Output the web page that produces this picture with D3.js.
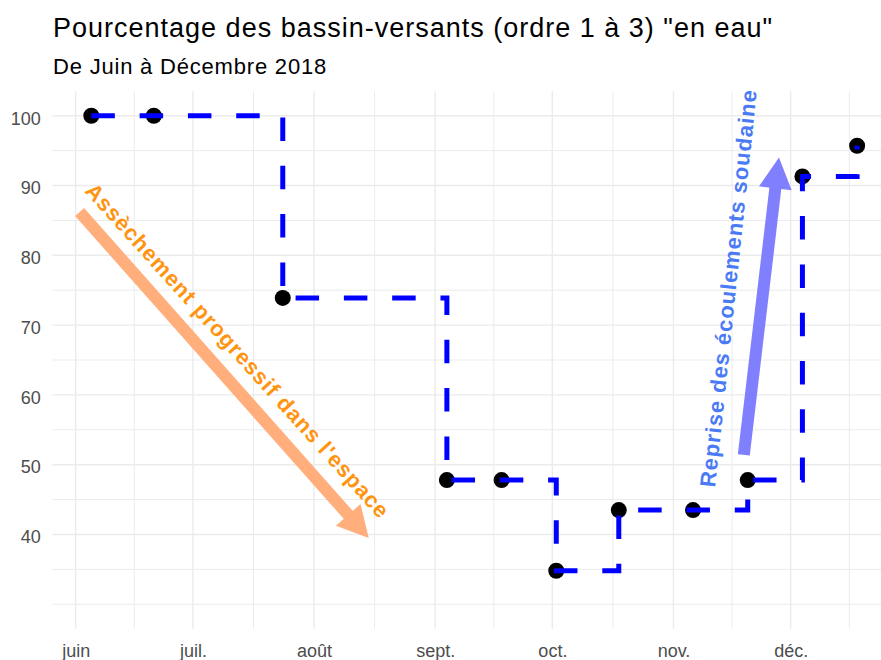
<!DOCTYPE html>
<html>
<head>
<meta charset="utf-8">
<script src="https://cdn.jsdelivr.net/npm/d3@7"></script>
<style>
  body { margin: 0; background: #ffffff; }
  svg { display: block; font-family: "Liberation Sans", Arial, sans-serif; }
</style>
</head>
<body>
<svg id="chart" width="881" height="660"></svg>
<script>
// Survey dates and share of catchments (order 1 to 3) holding water, in %
const surveyDates = ["2018-06-05", "2018-06-21", "2018-07-24", "2018-09-04", "2018-09-18",
                     "2018-10-02", "2018-10-18", "2018-11-06", "2018-11-20", "2018-12-04", "2018-12-18"];
const pctEnEau = [100, 100, 73.9, 47.8, 47.8, 34.8, 43.5, 43.5, 47.8, 91.3, 95.7];

// Axis ticks
const monthTicks = ["2018-06-01", "2018-07-01", "2018-08-01", "2018-09-01", "2018-10-01", "2018-11-01", "2018-12-01"];
const monthLabels = ["juin", "juil.", "août", "sept.", "oct.", "nov.", "déc."];
const yTicks = [40, 50, 60, 70, 80, 90, 100];
const yGrid = [30, 35, 40, 45, 50, 55, 60, 65, 70, 75, 80, 85, 90, 95, 100];

// Annotation arrows (start, end) and their captions
const arrowDryingDates = ["2018-06-02", "2018-08-15"];
const arrowDryingValues = [86.2, 39.5];
const arrowFlowDates = ["2018-11-19", "2018-11-28"];
const arrowFlowValues = [51.4, 94];
const captionDrying = { date: "2018-07-11", value: 65.6, text: "Assèchement progressif dans l'espace" };
const captionFlow = { date: "2018-11-17", value: 75.2, text: "Reprise des écoulements soudaine" };

const parse = d3.utcParse("%Y-%m-%d");
const svg = d3.select("#chart");

const panel = { left: 52.5, right: 881, top: 91.3, bottom: 628.7 };

const x = d3.scaleUtc()
  .domain([parse("2018-06-01"), parse("2018-12-01")])
  .range([75.7, 790.7]);
const y = d3.scaleLinear()
  .domain([26.5, 103.5])
  .range([panel.bottom, panel.top]);

// ---- grid ----
const grid = svg.append("g").attr("class", "grid");
const majors = monthTicks.map(parse);
const step0 = majors[1] - majors[0];
const extended = majors.concat([new Date(+majors[majors.length - 1] + step0)]);
const minors = d3.pairs(extended).map(([a, b]) => new Date((+a + +b) / 2));

grid.selectAll("line.hgrid").data(yGrid).join("line")
  .attr("x1", panel.left).attr("x2", panel.right)
  .attr("y1", d => y(d)).attr("y2", d => y(d))
  .attr("stroke", "#ebebeb")
  .attr("stroke-width", d => yTicks.includes(d) ? 1.4 : 1.0);

grid.selectAll("line.vgrid").data(majors.map(d => [d, true]).concat(minors.map(d => [d, false]))).join("line")
  .attr("x1", d => x(d[0])).attr("x2", d => x(d[0]))
  .attr("y1", panel.top).attr("y2", panel.bottom)
  .attr("stroke", "#ebebeb")
  .attr("stroke-width", d => d[1] ? 1.4 : 1.0);

// ---- axes ----
const yAxis = svg.append("g")
  .attr("transform", `translate(${panel.left},0)`)
  .call(d3.axisLeft(y).tickValues(yTicks).tickSize(0).tickPadding(11.8));
yAxis.select(".domain").remove();
yAxis.selectAll("text")
  .attr("dy", "0.46em")
  .attr("font-size", 18)
  .attr("font-family", "'Liberation Sans', Arial, sans-serif")
  .attr("fill", "#4d4d4d");

const xAxis = svg.append("g")
  .attr("transform", `translate(0,${panel.bottom})`)
  .call(d3.axisBottom(x).tickValues(majors).tickFormat((d, i) => monthLabels[i]).tickSize(0).tickPadding(16));
xAxis.select(".domain").remove();
xAxis.selectAll("text")
  .attr("font-size", 18)
  .attr("font-family", "'Liberation Sans', Arial, sans-serif")
  .attr("fill", "#4d4d4d");

// ---- annotation arrows ----
function drawArrow(dates, values, color) {
  const p0 = [x(parse(dates[0])), y(values[0])];
  const p1 = [x(parse(dates[1])), y(values[1])];
  const len = Math.hypot(p1[0] - p0[0], p1[1] - p0[1]);
  const ux = (p1[0] - p0[0]) / len, uy = (p1[1] - p0[1]) / len;
  const headLen = 35, half = 28 * Math.PI / 180;
  const rot = a => [ux * Math.cos(a) - uy * Math.sin(a), ux * Math.sin(a) + uy * Math.cos(a)];
  const w1 = rot(half), w2 = rot(-half);
  const baseC = [p1[0] - ux * headLen * Math.cos(half), p1[1] - uy * headLen * Math.cos(half)];
  const g = svg.append("g");
  g.append("line")
    .attr("x1", p0[0]).attr("y1", p0[1])
    .attr("x2", baseC[0] + ux * 2).attr("y2", baseC[1] + uy * 2)
    .attr("stroke", color).attr("stroke-width", 12).attr("stroke-linecap", "butt");
  g.append("path")
    .attr("d", d3.line()([
      p1,
      [p1[0] - w1[0] * headLen, p1[1] - w1[1] * headLen],
      [p1[0] - w2[0] * headLen, p1[1] - w2[1] * headLen]
    ]) + "Z")
    .attr("fill", color);
}
drawArrow(arrowDryingDates, arrowDryingValues, "#ffae7c");
drawArrow(arrowFlowDates, arrowFlowValues, "#8080ff");

// ---- captions ----
function drawCaption(c, angle, color) {
  const px = x(parse(c.date)), py = y(c.value);
  svg.append("text")
    .attr("transform", `translate(${px},${py}) rotate(${angle})`)
    .attr("text-anchor", "middle")
    .attr("font-size", 22)
    .attr("font-weight", "bold")
    .attr("letter-spacing", 1)
    .attr("fill", color)
    .text(c.text);
}
drawCaption(captionDrying, 48, "#ff9410");
drawCaption(captionFlow, -84, "#4a7af5");

// ---- data: points, then dashed step line on top ----
const data = surveyDates.map((d, i) => ({ date: parse(d), v: pctEnEau[i] }));

svg.append("g").selectAll("circle").data(data).join("circle")
  .attr("cx", d => x(d.date))
  .attr("cy", d => y(d.v))
  .attr("r", 8)
  .attr("fill", "#000000");

svg.append("path")
  .datum(data)
  .attr("d", d3.line().x(d => x(d.date)).y(d => y(d.v)).curve(d3.curveStepAfter))
  .attr("fill", "none")
  .attr("stroke", "#0000ff")
  .attr("stroke-width", 5)
  .attr("stroke-dasharray", "23.5,24.8")
  .attr("stroke-linecap", "butt");

// ---- titles ----
svg.append("text")
  .attr("x", 53).attr("y", 36.7)
  .attr("font-size", 27)
  .attr("letter-spacing", 1.0)
  .attr("fill", "#000000")
  .text("Pourcentage des bassin-versants (ordre 1 à 3) \"en eau\"");
svg.append("text")
  .attr("x", 53).attr("y", 74)
  .attr("font-size", 22)
  .attr("letter-spacing", 0.8)
  .attr("fill", "#000000")
  .text("De Juin à Décembre 2018");
</script>
</body>
</html>
